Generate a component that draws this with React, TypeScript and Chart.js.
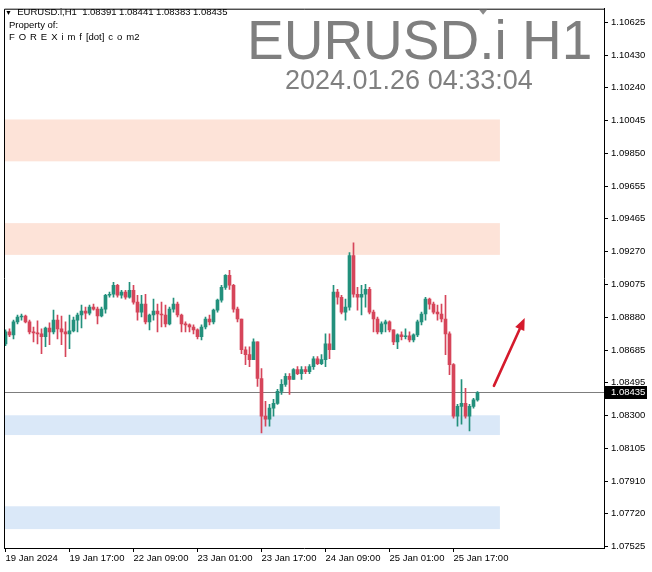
import React, { useEffect, useRef } from "react";
import { Chart, registerables } from "chart.js";

Chart.register(...registerables);

// ---- data ----
const timeLabels = [
  "19 Jan 2024", "19 Jan 17:00", "22 Jan 09:00", "23 Jan 01:00",
  "23 Jan 17:00", "24 Jan 09:00", "25 Jan 01:00", "25 Jan 17:00",
];
const timeLabelIndex = [0, 16, 32, 48, 64, 80, 96, 112];

const priceTicks = [
  1.10625, 1.1043, 1.1024, 1.10045, 1.0985, 1.09655, 1.09465, 1.0927, 1.09075,
  1.0888, 1.08685, 1.08495, 1.083, 1.08105, 1.0791, 1.0772, 1.07525,
];

const opens = [
  1.08723, 1.08794, 1.08776, 1.08853, 1.08882, 1.08888, 1.08853, 1.08794, 1.08788, 1.08782,
  1.08765, 1.08817, 1.08794, 1.08864, 1.08812, 1.08794, 1.08782, 1.088, 1.08864, 1.08894,
  1.08917, 1.08905, 1.08941, 1.08929, 1.08888, 1.08929, 1.09011, 1.09017, 1.0907, 1.09011,
  1.09029, 1.08999, 1.0904, 1.0897, 1.08911, 1.08958, 1.08853, 1.08894, 1.08917, 1.089,
  1.08894, 1.08841, 1.08929, 1.08958, 1.08894, 1.08841, 1.08835, 1.08823, 1.08806, 1.08765,
  1.08823, 1.0887, 1.08853, 1.08923, 1.08982, 1.09058, 1.09129, 1.0907, 1.08929, 1.0887,
  1.08688, 1.08659, 1.0863, 1.08735, 1.08518, 1.08295, 1.08277, 1.08342, 1.08371, 1.08442,
  1.08483, 1.0853, 1.08512, 1.08571, 1.08547, 1.08571, 1.08559, 1.08588, 1.08635, 1.08606,
  1.0863, 1.08723, 1.08688, 1.09029, 1.08999, 1.08911, 1.08941, 1.09246, 1.09017, 1.08999,
  1.09017, 1.09046, 1.08911, 1.0887, 1.08794, 1.08841, 1.08853, 1.08806, 1.08735, 1.08776,
  1.08765, 1.0877, 1.08747, 1.08776, 1.08853, 1.089, 1.08988, 1.08958, 1.08911, 1.089,
  1.0887, 1.08782, 1.086, 1.08295, 1.08353, 1.08371, 1.08295, 1.08353, 1.08391,
];
const highs = [
  1.08806, 1.08812, 1.08864, 1.08894, 1.089, 1.08894, 1.08864, 1.08823, 1.08859, 1.08812,
  1.08823, 1.08847, 1.08923, 1.08894, 1.08888, 1.08853, 1.08894, 1.08882, 1.08905, 1.08952,
  1.08941, 1.08952, 1.08958, 1.08941, 1.08941, 1.09017, 1.09029, 1.09087, 1.09076, 1.0904,
  1.0904, 1.09087, 1.0907, 1.09011, 1.09011, 1.09017, 1.089, 1.08988, 1.08958, 1.0897,
  1.08952, 1.08941, 1.08994, 1.0897, 1.089, 1.08853, 1.08841, 1.08835, 1.08812, 1.08835,
  1.08882, 1.08894, 1.08929, 1.08988, 1.0907, 1.09134, 1.09158, 1.09076, 1.08941, 1.0887,
  1.08706, 1.08706, 1.08753, 1.08735, 1.08577, 1.08383, 1.08365, 1.08395, 1.08454, 1.08512,
  1.08547, 1.08547, 1.08577, 1.08588, 1.08588, 1.08588, 1.086, 1.08647, 1.08647, 1.08659,
  1.08782, 1.08782, 1.0907, 1.09046, 1.09011, 1.08988, 1.09264, 1.09322, 1.09058, 1.0907,
  1.09076, 1.09058, 1.08923, 1.08882, 1.08853, 1.08864, 1.08859, 1.08806, 1.08782, 1.08794,
  1.08812, 1.08794, 1.08782, 1.08864, 1.08911, 1.08999, 1.08994, 1.0897, 1.08952, 1.08958,
  1.09011, 1.08794, 1.08606, 1.08365, 1.08512, 1.0846, 1.08365, 1.08401, 1.08441,
];
const lows = [
  1.08712, 1.08765, 1.08753, 1.08841, 1.08864, 1.08847, 1.08782, 1.08735, 1.08723, 1.08665,
  1.08706, 1.08718, 1.08782, 1.08753, 1.08718, 1.08647, 1.08694, 1.08794, 1.08794, 1.08817,
  1.0887, 1.08894, 1.08923, 1.08841, 1.08882, 1.08905, 1.08999, 1.08999, 1.08999, 1.08994,
  1.08988, 1.08994, 1.08958, 1.08864, 1.08882, 1.08841, 1.08806, 1.08864, 1.08794, 1.08823,
  1.08823, 1.08835, 1.08911, 1.08882, 1.08794, 1.08794, 1.08794, 1.08782, 1.08753, 1.08747,
  1.08812, 1.08835, 1.08841, 1.08911, 1.0897, 1.09046, 1.09046, 1.08911, 1.08853, 1.08665,
  1.086, 1.08588, 1.0863, 1.08471, 1.08195, 1.08236, 1.08236, 1.08295, 1.08365, 1.08424,
  1.08471, 1.08424, 1.08512, 1.08541, 1.08512, 1.08547, 1.08547, 1.08571, 1.086, 1.086,
  1.08588, 1.08635, 1.08688, 1.08958, 1.089, 1.08864, 1.08923, 1.08999, 1.08923, 1.08894,
  1.08941, 1.089, 1.08794, 1.08782, 1.08782, 1.08794, 1.08794, 1.08718, 1.08694, 1.08747,
  1.08753, 1.08735, 1.08735, 1.08765, 1.08835, 1.08864, 1.08929, 1.089, 1.08864, 1.08853,
  1.08659, 1.08541, 1.08283, 1.08236, 1.08248, 1.08283, 1.08207, 1.08342, 1.08383,
];
const closes = [
  1.08794, 1.08776, 1.08853, 1.08882, 1.08888, 1.08853, 1.08794, 1.08788, 1.08782, 1.08765,
  1.08817, 1.08794, 1.08864, 1.08812, 1.08794, 1.08782, 1.088, 1.08864, 1.08894, 1.08917,
  1.08905, 1.08941, 1.08929, 1.08888, 1.08929, 1.09011, 1.09017, 1.0907, 1.09011, 1.09029,
  1.08999, 1.0904, 1.0897, 1.08911, 1.08958, 1.08853, 1.08894, 1.08917, 1.089, 1.08894,
  1.08841, 1.08929, 1.08958, 1.08894, 1.08841, 1.08835, 1.08823, 1.08806, 1.08765, 1.08823,
  1.0887, 1.08853, 1.08923, 1.08982, 1.09058, 1.09129, 1.0907, 1.08929, 1.0887, 1.08688,
  1.08659, 1.0863, 1.08735, 1.08518, 1.08295, 1.08277, 1.08342, 1.08371, 1.08442, 1.08483,
  1.0853, 1.08512, 1.08571, 1.08547, 1.08571, 1.08559, 1.08588, 1.08635, 1.08606, 1.0863,
  1.08723, 1.08688, 1.09029, 1.08999, 1.08911, 1.08941, 1.09246, 1.09017, 1.08999, 1.09017,
  1.09046, 1.08911, 1.0887, 1.08794, 1.08841, 1.08853, 1.08806, 1.08735, 1.08776, 1.08765,
  1.0877, 1.08747, 1.08776, 1.08853, 1.089, 1.08988, 1.08958, 1.08911, 1.089, 1.0887,
  1.08782, 1.086, 1.08295, 1.08353, 1.08371, 1.08295, 1.08353, 1.08391, 1.08435,
];

// supply (upper) and demand (lower) zones: [top, bottom] in price
const supplyZones = [
  [1.10052, 1.09804],
  [1.09438, 1.09250],
];
const demandZones = [
  [1.08300, 1.08183],
  [1.07761, 1.07626],
];
const zoneEndIndex = 123.6;

// arrow annotation: [bar index, price]
const arrowFrom = [122.1, 1.08474];
const arrowTo = [129.8, 1.08876];

const headerText = "EURUSD.i,H1  1.08391 1.08441 1.08383 1.08435";
const titleText = "EURUSD.i H1";
const dateText = "2024.01.26 04:33:04";

// ---- styles ----
const GREEN = "#22907c";
const RED = "#d6455a";
const SUPPLY = "#fde3d8";
const DEMAND = "#dae8f8";
const AXIS_FONT = { family: "'Liberation Sans', Arial, sans-serif", size: 9.5 };

const overlayPlugin = {
  id: "mtOverlay",
  beforeDatasetsDraw(chart: any) {
    const { ctx, chartArea, scales } = chart;
    const x = scales.x;
    const y = scales.y;
    ctx.save();
    const xr = x.getPixelForValue(zoneEndIndex);
    const drawZone = (z: number[], color: string) => {
      const t = y.getPixelForValue(z[0]);
      const b = y.getPixelForValue(z[1]);
      ctx.fillStyle = color;
      ctx.fillRect(chartArea.left, t, xr - chartArea.left, b - t);
    };
    supplyZones.forEach((z) => drawZone(z, SUPPLY));
    demandZones.forEach((z) => drawZone(z, DEMAND));
    // current price line
    const last = closes[closes.length - 1];
    const py = Math.round(y.getPixelForValue(last)) + 0.5;
    ctx.strokeStyle = "#7d7d7d";
    ctx.lineWidth = 1;
    ctx.beginPath();
    ctx.moveTo(chartArea.left, py);
    ctx.lineTo(chartArea.right, py);
    ctx.stroke();
    ctx.restore();
  },
  afterDraw(chart: any) {
    const { ctx, chartArea, scales } = chart;
    const x = scales.x;
    const y = scales.y;
    ctx.save();
    // frame
    ctx.strokeStyle = "#000";
    ctx.lineWidth = 1;
    ctx.beginPath();
    ctx.moveTo(chartArea.left + 0.5, chartArea.bottom);
    ctx.lineTo(chartArea.left + 0.5, chartArea.top + 0.5);
    ctx.lineTo(chartArea.right, chartArea.top + 0.5);
    ctx.stroke();

    // shift marker
    const sx = x.getPixelForValue(closes.length + 0.4);
    ctx.fillStyle = "#8a8a8a";
    ctx.beginPath();
    ctx.moveTo(sx - 4, chartArea.top + 1);
    ctx.lineTo(sx + 4, chartArea.top + 1);
    ctx.lineTo(sx, chartArea.top + 6);
    ctx.closePath();
    ctx.fill();

    // arrow
    const x1 = x.getPixelForValue(arrowFrom[0]);
    const y1 = y.getPixelForValue(arrowFrom[1]);
    const x2 = x.getPixelForValue(arrowTo[0]);
    const y2 = y.getPixelForValue(arrowTo[1]);
    const ang = Math.atan2(y2 - y1, x2 - x1);
    const headLen = 12;
    const headW = 5;
    const bx = x2 - headLen * Math.cos(ang);
    const by = y2 - headLen * Math.sin(ang);
    ctx.strokeStyle = "#d51a2c";
    ctx.fillStyle = "#d51a2c";
    ctx.lineWidth = 2.6;
    ctx.lineCap = "round";
    ctx.beginPath();
    ctx.moveTo(x1, y1);
    ctx.lineTo(bx, by);
    ctx.stroke();
    ctx.beginPath();
    ctx.moveTo(x2, y2);
    ctx.lineTo(bx + headW * Math.sin(ang), by - headW * Math.cos(ang));
    ctx.lineTo(bx - headW * Math.sin(ang), by + headW * Math.cos(ang));
    ctx.closePath();
    ctx.fill();

    // current price label
    const last = closes[closes.length - 1];
    const py = Math.round(y.getPixelForValue(last));
    ctx.fillStyle = "#000";
    ctx.fillRect(chartArea.right + 1, py - 6, 42, 13);
    ctx.fillStyle = "#fff";
    ctx.font = `${AXIS_FONT.size}px ${AXIS_FONT.family}`;
    ctx.textBaseline = "middle";
    ctx.textAlign = "left";
    ctx.fillText(last.toFixed(5), chartArea.right + 7, py + 0.5);
    ctx.restore();
  },
};

export default function App() {
  const ref = useRef<HTMLCanvasElement | null>(null);

  useEffect(() => {
    if (!ref.current) return;
    const idx = closes.map((_, i) => i);
    const colorOf = (i: number) => (closes[i] >= opens[i] ? GREEN : RED);
    const chart = new Chart(ref.current, {
      type: "bar",
      data: {
        datasets: [
          {
            label: "body",
            data: idx.map((i) => ({ x: i, y: [opens[i], closes[i]] })) as any,
            backgroundColor: idx.map(colorOf),
            barThickness: 3,
            minBarLength: 1,
            grouped: false,
            borderWidth: 0,
          } as any,
          {
            label: "wick",
            data: idx.map((i) => ({ x: i, y: [lows[i], highs[i]] })) as any,
            backgroundColor: idx.map(colorOf),
            barThickness: 1,
            grouped: false,
            borderWidth: 0,
          } as any,
        ],
      },
      options: {
        animation: false,
        responsive: false,
        maintainAspectRatio: false,
        devicePixelRatio: 1,
        layout: { padding: { left: 4, top: 4, right: 0, bottom: 0 } },
        plugins: { legend: { display: false }, tooltip: { enabled: false } },
        scales: {
          x: {
            type: "linear",
            min: -0.375,
            max: 149.625,
            offset: false,
            grid: {
              display: true,
              drawOnChartArea: false,
              drawTicks: true,
              tickLength: 4,
              offset: false,
              color: "#000",
            },
            border: { display: true, color: "#000", width: 1 },
            afterBuildTicks: (s: any) => {
              s.ticks = timeLabelIndex.map((v) => ({ value: v }));
            },
            ticks: {
              autoSkip: false,
              maxRotation: 0,
              minRotation: 0,
              align: "start",
              padding: 1,
              color: "#000",
              font: AXIS_FONT,
              callback: (v: any) => {
                const k = timeLabelIndex.indexOf(Number(v));
                return k >= 0 ? timeLabels[k] : "";
              },
            },
            afterFit: (s: any) => {
              s.height = 24;
            },
          } as any,
          y: {
            type: "linear",
            position: "right",
            min: 1.07514,
            max: 1.10708,
            grid: {
              display: true,
              drawOnChartArea: false,
              tickLength: 4,
              color: "#000",
            },
            border: { display: true, color: "#000", width: 1 },
            afterBuildTicks: (s: any) => {
              s.ticks = priceTicks.map((v) => ({ value: v }));
            },
            ticks: {
              autoSkip: false,
              padding: 3,
              color: "#000",
              font: AXIS_FONT,
              callback: (v: any) => Number(v).toFixed(5),
            },
            afterFit: (s: any) => {
              s.width = 48;
            },
          } as any,
        },
      },
      plugins: [overlayPlugin],
    });
    return () => chart.destroy();
  }, []);

  const small: React.CSSProperties = {
    position: "absolute",
    fontFamily: "'Liberation Sans', Arial, sans-serif",
    fontSize: "9.5px",
    lineHeight: "12px",
    color: "#000",
    whiteSpace: "pre",
  };

  return (
    <div
      style={{
        position: "fixed",
        left: 0,
        top: 0,
        width: 652,
        height: 572,
        background: "#fff",
        overflow: "hidden",
      }}
    >
      <canvas ref={ref} width={652} height={572} style={{ display: "block", width: 652, height: 572 }} />
      <div style={{ ...small, left: 5, top: 6 }}>
        <span style={{ fontSize: "7px" }}>▼</span>
        {"  " + headerText}
      </div>
      <div style={{ ...small, left: 9, top: 19 }}>Property of:</div>
      <div style={{ ...small, left: 9, top: 31, wordSpacing: "1.3px" }}>F O R E X i m f [dot] c o m2</div>
      <div
        style={{
          position: "absolute",
          left: 247,
          top: 13,
          fontFamily: "'Liberation Sans', Arial, sans-serif",
          fontSize: "55px",
          lineHeight: "55px",
          color: "#7f7f7f",
          whiteSpace: "nowrap",
        }}
      >
        {titleText}
      </div>
      <div
        style={{
          position: "absolute",
          left: 285,
          top: 67,
          fontFamily: "'Liberation Sans', Arial, sans-serif",
          fontSize: "27px",
          lineHeight: "27px",
          color: "#808080",
          whiteSpace: "nowrap",
        }}
      >
        {dateText}
      </div>
    </div>
  );
}
